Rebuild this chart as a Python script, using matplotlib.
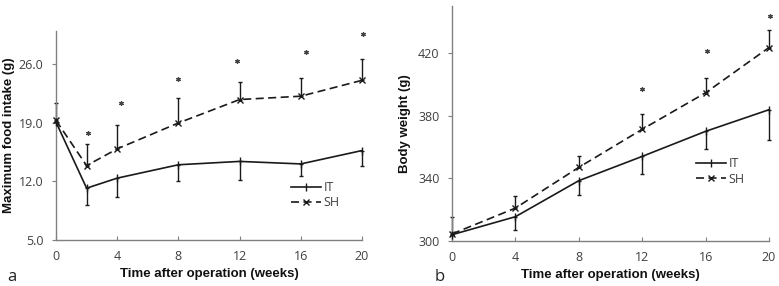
import matplotlib
matplotlib.use("Agg")
import matplotlib.pyplot as plt
import numpy as np

plt.rcParams['lines.scale_dashes'] = False

# Panel a: maximum food intake
weeks_a = [0, 2, 4, 8, 12, 16, 20]
it_food = [19.1, 11.2, 12.4, 14.0, 14.4, 14.1, 15.7]
it_food_err = [0.0, 2.0, 2.2, 1.9, 2.2, 1.4, 1.8]
sh_food = [19.3, 13.9, 15.9, 19.0, 21.8, 22.2, 24.1]
sh_food_err = [2.1, 2.6, 2.8, 3.0, 2.1, 2.2, 2.5]
star_a_x = [2.1, 4.25, 7.96, 11.82, 16.34, 20.04]
star_a_y = [17.8, 21.35, 24.25, 26.4, 27.45, 29.7]

# Panel b: body weight
weeks_b = [0, 4, 8, 12, 16, 20]
it_bw = [304.0, 315.5, 338.5, 354.0, 370.0, 383.8]
it_bw_err = [0.0, 8.5, 9.0, 11.5, 11.0, 19.5]
sh_bw = [304.5, 321.0, 347.0, 371.3, 394.6, 423.5]
sh_bw_err = [11.0, 7.5, 7.5, 10.0, 9.7, 11.0]
star_b_x = [12.0, 16.1, 20.05]
star_b_y = [397.0, 421.0, 443.7]

xticks = [0, 4, 8, 12, 16, 20]
yticks_a = [5.0, 12.0, 19.0, 26.0]
yticks_b = [300, 340, 380, 420]

W, H = 779, 286
fig = plt.figure(figsize=(W / 100, H / 100), dpi=100)

line_c = '#1a1a1a'
spine_c = '#808080'
text_c = '#404040'
tick_font = 'Open Sans'
title_font = 'Liberation Sans'
tick_fs = 9


def px_axes(l, r, t, b):
    return fig.add_axes([l / W, 1 - b / H, (r - l) / W, (b - t) / H])


def style(ax, yticks, fmt):
    for s in ['top', 'right']:
        ax.spines[s].set_visible(False)
    for s in ['left', 'bottom']:
        ax.spines[s].set_color(spine_c)
        ax.spines[s].set_linewidth(1.0)
    ax.set_xticks(xticks)
    ax.set_xticklabels([str(x) for x in xticks], fontfamily=tick_font, fontsize=tick_fs, color=text_c)
    ax.set_yticks(yticks)
    ax.set_yticklabels([fmt.format(y) for y in yticks], fontfamily=tick_font, fontsize=tick_fs, color=text_c)
    ax.tick_params(axis='x', direction='in', length=3, color=spine_c, pad=7)
    ax.tick_params(axis='y', direction='out', length=3, color=spine_c, pad=6)
    ax.set_xlabel('Time after operation (weeks)', fontfamily=title_font, fontweight='bold',
                  fontsize=9.5, color='#111111', labelpad=4)


def draw(ax, x, it, it_err, sh, sh_err, sx, sy):
    e1 = ax.errorbar(x, it, yerr=[it_err, [0] * len(it_err)], fmt='none', ecolor=line_c,
                     elinewidth=1.0, capsize=1.6, capthick=1.0, zorder=2)
    e2 = ax.errorbar(x, sh, yerr=[[0] * len(sh_err), sh_err], fmt='none', ecolor=line_c,
                     elinewidth=1.0, capsize=1.6, capthick=1.0, zorder=2)
    for e in (e1, e2):
        for art in e.lines[1]:
            art.set_clip_on(False)
        for art in e.lines[2]:
            art.set_clip_on(False)
    ax.plot(x, it, color=line_c, lw=1.2, marker='|', ms=6, mew=1.0, label='IT', zorder=3,
            clip_on=False)
    ax.plot(x, sh, color=line_c, lw=1.2, ls=(0, (5.8, 3.2)), marker='x', ms=5, mew=1.0,
            label='SH', zorder=3, clip_on=False)
    ax.plot(sx, sy, ls='none', marker=(6, 2, 0), ms=3.2, mew=0.9, color='#444444', zorder=3,
            clip_on=False)


def legend(ax, bx, by):
    leg = ax.legend(loc='upper left', bbox_to_anchor=(bx, by),
                    frameon=False, prop={'family': tick_font, 'size': tick_fs}, handlelength=2.4,
                    handletextpad=0.2, labelspacing=0.2, borderaxespad=0, borderpad=0)
    for t in leg.get_texts():
        t.set_color(text_c)


# Panel a
ax1 = px_axes(56, 362, 31, 240)
draw(ax1, weeks_a, it_food, it_food_err, sh_food, sh_food_err, star_a_x, star_a_y)
ax1.set_xlim(0, 20)
ax1.set_ylim(5, 30)
style(ax1, yticks_a, '{:.1f}')
ax1.set_ylabel('Maximum food intake (g)', fontfamily=title_font, fontweight='bold',
               fontsize=9.5, color='#111111', labelpad=3)
legend(ax1, (291 - 56) / 306, 1 - (181 - 31) / 209)

# Panel b
ax2 = px_axes(452, 769, 6, 241)
draw(ax2, weeks_b, it_bw, it_bw_err, sh_bw, sh_bw_err, star_b_x, star_b_y)
ax2.set_xlim(0, 20)
ax2.set_ylim(300, 450)
style(ax2, yticks_b, '{:d}')
ax2.set_ylabel('Body weight (g)', fontfamily=title_font, fontweight='bold',
               fontsize=9.5, color='#111111', labelpad=5)
legend(ax2, (696 - 452) / 317, 1 - (157 - 6) / 235)

fig.text(12 / W, 1 - 277 / H, 'a', fontfamily=tick_font, fontsize=12, color='#222222',
         ha='center', va='center')
fig.text(440 / W, 1 - 277 / H, 'b', fontfamily=tick_font, fontsize=12, color='#222222',
         ha='center', va='center')

fig.savefig('out.png', dpi=100, facecolor='white')
